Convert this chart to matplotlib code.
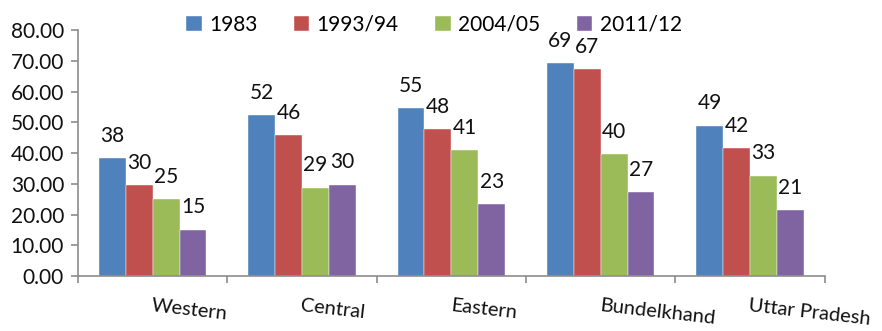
import numpy as np
import matplotlib
matplotlib.use("Agg")
import matplotlib.pyplot as plt

plt.rcParams['font.family'] = ['Lato', 'DejaVu Sans']

regions = ["Western", "Central", "Eastern", "Bundelkhand", "Uttar Pradesh"]
years = ["1983", "1993/94", "2004/05", "2011/12"]
v1983 = [38.4, 52.4, 54.6, 69.2, 48.9]
v1993 = [29.6, 45.8, 47.8, 67.3, 41.6]
v2004 = [25.0, 28.8, 41.0, 39.7, 32.7]
v2011 = [15.1, 29.7, 23.4, 27.4, 21.4]
colors = ["#4F81BD", "#C0504D", "#9BBB59", "#8064A2"]

series = [v1983, v1993, v2004, v2011]
axis_grey = "#8C8C8C"
txt = "#111111"
fs = 15

fig = plt.figure(figsize=(8.82, 3.31), dpi=100)
ax = fig.add_axes([0.0884, 0.166, 0.935 - 0.0884, 0.909 - 0.166])

x = np.arange(len(regions))
width = 0.18
for i, (vals, c, lab) in enumerate(zip(series, colors, years)):
    pos = x + (i - 1.5) * width
    bars = ax.bar(pos, vals, width, color=c, label=lab, edgecolor="white", linewidth=0.3)
    for b, v in zip(bars, vals):
        ax.text(b.get_x() + b.get_width() / 2, v + 4.0, f"{v:.0f}",
                ha="center", va="bottom", fontsize=fs, color=txt)

ax.set_xlim(-0.5, len(regions) - 0.5)
ax.set_ylim(0, 80)
ax.set_yticks(np.arange(0, 81, 10))
ax.set_yticklabels([f"{t:.2f}" for t in np.arange(0, 81, 10)], fontsize=fs, color=txt)

# category boundaries carry the tick marks, names sit to the right of centre
ax.set_xticks(np.arange(-0.5, len(regions), 1.0))
ax.set_xticklabels([])
for xi, name in zip(x, regions):
    ax.text(xi, -7.0, name, rotation=-6.5, rotation_mode="anchor",
            ha="left", va="top", fontsize=14.5, color=txt)

for s in ["top", "right"]:
    ax.spines[s].set_visible(False)
for s in ["left", "bottom"]:
    ax.spines[s].set_color(axis_grey)
    ax.spines[s].set_linewidth(1.2)
ax.tick_params(axis="both", color=axis_grey, length=5, width=1.2, direction="out")
ax.tick_params(axis="y", pad=5)

fig.legend(loc="center", bbox_to_anchor=(0.492, 0.925), ncol=4, frameon=False,
           fontsize=fs, handlelength=0.75, handleheight=0.75, handletextpad=0.35,
           columnspacing=1.75)

fig.savefig("out.png", dpi=100)
